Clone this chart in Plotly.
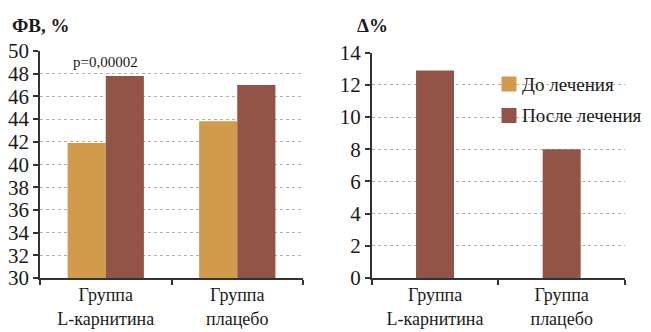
import plotly.graph_objects as go

categories = ["Группа<br>L-карнитина", "Группа<br>плацебо"]
before = [41.9, 43.8]
after = [47.8, 47.0]
delta = [12.9, 8.0]
series_names = ["До лечения", "После лечения"]
left_ticks = list(range(30, 51, 2))
right_ticks = list(range(0, 15, 2))

C_BEFORE = "#D29B4B"
C_AFTER = "#935448"
FONT = "'Liberation Serif', 'DejaVu Serif', serif"
TXT = "#1a1a1a"

fig = go.Figure()
fig.add_trace(go.Bar(x=categories, y=before, marker_color=C_BEFORE, marker_line_width=0,
                     xaxis="x", yaxis="y", showlegend=False, name=series_names[0]))
fig.add_trace(go.Bar(x=categories, y=after, marker_color=C_AFTER, marker_line_width=0,
                     xaxis="x", yaxis="y", showlegend=False, name=series_names[1]))
fig.add_trace(go.Bar(x=categories, y=delta, marker_color=C_AFTER, marker_line_width=0,
                     width=0.3, xaxis="x2", yaxis="y2", showlegend=False, offsetgroup="d"))

W, H = 651, 332
def px(xp): return xp / W
def py(yp): return 1 - yp / H

axis_common = dict(showline=True, linecolor="#333", linewidth=1.5, ticks="outside",
                   ticklen=5, tickcolor="#333", tickwidth=1.5, automargin=False,
                   tickfont=dict(family=FONT, size=21, color=TXT))
xfont = dict(family=FONT, size=18, color=TXT)

fig.update_layout(
    width=W, height=H, margin=dict(l=0, r=0, t=0, b=0, autoexpand=False),
    paper_bgcolor="white", plot_bgcolor="white",
    barmode="group", bargap=0.42, bargroupgap=0, showlegend=False,
    font=dict(family=FONT, color=TXT),
    xaxis=dict(domain=[px(40), px(303)], anchor="y", type="category", tickson="boundaries",
               showgrid=False, **{**axis_common, "tickfont": xfont}),
    yaxis=dict(domain=[py(278), py(51)], anchor="x", range=[30, 50], tickvals=left_ticks,
               showgrid=True, gridcolor="#b0b0b0", griddash="dot", gridwidth=1, zeroline=False,
               **axis_common),
    xaxis2=dict(domain=[px(371.7), px(625)], anchor="y2", type="category", tickson="boundaries",
                showgrid=False, **{**axis_common, "tickfont": xfont}),
    yaxis2=dict(domain=[py(278), py(52.7)], anchor="x2", range=[0, 14], tickvals=right_ticks,
                showgrid=True, gridcolor="#b0b0b0", griddash="dot", gridwidth=1, zeroline=False,
                **axis_common),
)

annotations = [
    dict(text="<b>ФВ, %</b>", x=px(10), y=py(25), xref="paper", yref="paper",
         xanchor="left", yanchor="middle", showarrow=False,
         font=dict(family=FONT, size=19, color=TXT)),
    dict(text="<b>Δ%</b>", x=px(355), y=py(25), xref="paper", yref="paper",
         xanchor="left", yanchor="middle", showarrow=False,
         font=dict(family=FONT, size=19, color=TXT)),
    dict(text="p=0,00002", x=categories[0], y=49, xref="x", yref="y",
         xanchor="center", yanchor="middle", showarrow=False,
         font=dict(family=FONT, size=15, color=TXT)),
]
# manual legend (swatches + labels)
shapes = []
for i, (nm, col) in enumerate(zip(series_names, [C_BEFORE, C_AFTER])):
    yc = 84 + 31.5 * i
    shapes.append(dict(type="rect", xref="paper", yref="paper",
                       x0=px(501.5), x1=px(516.5), y0=py(yc + 7.5), y1=py(yc - 7.5),
                       fillcolor=col, line_width=0))
    annotations.append(dict(text=nm, x=px(520), y=py(yc), xref="paper", yref="paper",
                            xanchor="left", yanchor="middle", showarrow=False,
                            font=dict(family=FONT, size=19, color=TXT)))
fig.update_layout(annotations=annotations, shapes=shapes)

fig.write_html("out.html", config={"displayModeBar": False},
               post_script="document.body.style.margin='0';document.body.style.overflow='hidden';")
